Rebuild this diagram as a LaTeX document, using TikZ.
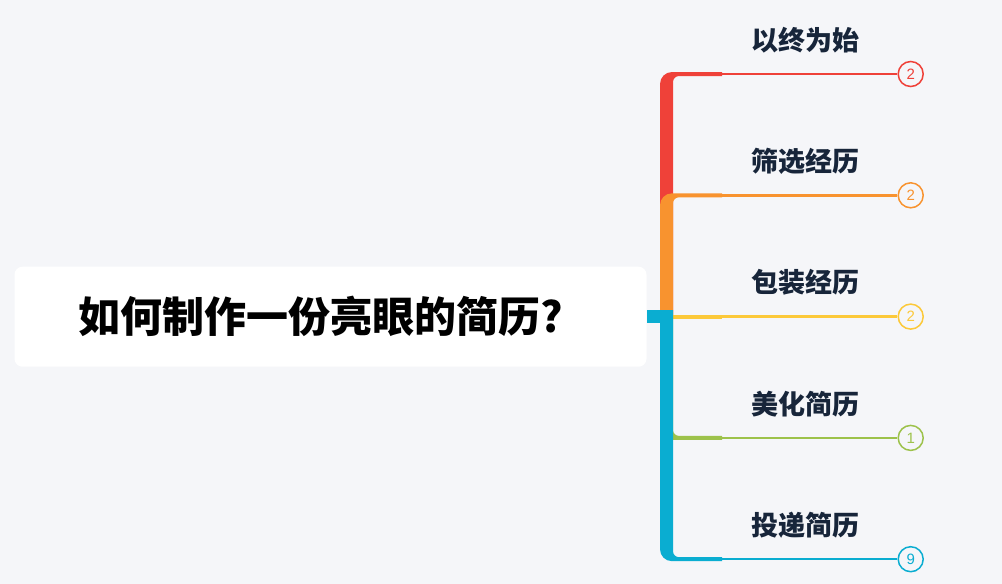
\documentclass[tikz,border=0pt]{standalone}
\usepackage{fontspec}
\setmainfont{Noto Sans CJK SC}
\newfontfamily\numfont{Liberation Sans}
\definecolor{bg}{HTML}{F5F6F9}
\definecolor{cRed}{HTML}{EF4139}
\definecolor{cOrange}{HTML}{F8932F}
\definecolor{cYellow}{HTML}{FCC93A}
\definecolor{cGreen}{HTML}{9DC24B}
\definecolor{cBlue}{HTML}{0AADD1}
\definecolor{txt}{HTML}{17253A}
\newcommand\branchup[2]{%
  \fill[#1] (660,316.6) -- (660,#2+10) .. controls (660,#2+3.4) and (665.4,#2-2) .. (672,#2-2)
    -- (722,#2-2) -- (722,#2+2) -- (679,#2+2) .. controls (675.7,#2+2) and (673,#2+4.7) .. (673,#2+8)
    -- (673,316.6) -- cycle;}
\newcommand\branchdown[3]{%
  \fill[#1] (660,#3) -- (660,#2-10) .. controls (660,#2-3.4) and (665.4,#2+2) .. (672,#2+2)
    -- (722,#2+2) -- (722,#2-2) -- (679,#2-2) .. controls (675.7,#2-2) and (673,#2-4.7) .. (673,#2-8)
    -- (673,#3) -- cycle;}
\tikzset{
  rootbox/.style={fill=white, rounded corners=8pt, minimum width=632pt, minimum height=100pt, inner sep=0pt},
  title/.style={font=\fontsize{42}{42}\selectfont\bfseries, text=black, inner sep=0pt, anchor=west},
  lab/.style={font=\fontsize{27}{27}\selectfont\bfseries, text=txt, inner sep=0pt},
  badge/.style={circle, draw=#1, line width=1.5pt, fill=bg, minimum size=25pt, inner sep=0pt,
    text=#1, font=\numfont\fontsize{15}{15}\selectfont},
  thin/.style={line width=2.5pt, draw=#1},
}
\begin{document}
\begin{tikzpicture}[x=1pt,y=-1pt]
\fill[bg] (0,0) rectangle (1002,584);
\useasboundingbox (0,0) rectangle (1002,584);
\node[rootbox] (root) at (330.5,316.7) {};
\node[title] (t) at (78,316.7) {如何制作一份亮眼的简历?};
% badges
\node[badge=cRed]    (n1) at (910.7,74)    {2};
\node[badge=cOrange] (n2) at (910.7,195.3) {2};
\node[badge=cYellow] (n3) at (910.7,316.6) {2};
\node[badge=cGreen]  (n4) at (910.7,437.9) {1};
\node[badge=cBlue]   (n5) at (910.7,559.2) {9};
% line start coordinates
\coordinate (s1) at (715,74);
\coordinate (s2) at (715,195.3);
\coordinate (s3) at (715,316.6);
\coordinate (s4) at (715,437.9);
\coordinate (s5) at (715,559.2);
\draw[thin=cRed]    (s1) -- (n1.west);
\draw[thin=cOrange] (s2) -- (n2.west);
\draw[thin=cYellow] (s3) -- (n3.west);
\draw[thin=cGreen]  (s4) -- (n4.west);
\draw[thin=cBlue]   (s5) -- (n5.west);
% thick branches
\branchup{cRed}{74}
\branchup{cOrange}{195.3}
\fill[cYellow] (673,314.6) rectangle (722,318.6);
\branchdown{cGreen}{437.9}{316.6}
\branchdown{cBlue}{559.2}{310}
\fill[cBlue] (root.east |- 0,310) rectangle (673,323.3);
% labels
\node[lab] (l1) at (805.5,40)    {以终为始};
\node[lab] (l2) at (805.5,161.3) {筛选经历};
\node[lab] (l3) at (805.5,282.6) {包装经历};
\node[lab] (l4) at (805.5,403.9) {美化简历};
\node[lab] (l5) at (805.5,525.2) {投递简历};
\end{tikzpicture}
\end{document}
